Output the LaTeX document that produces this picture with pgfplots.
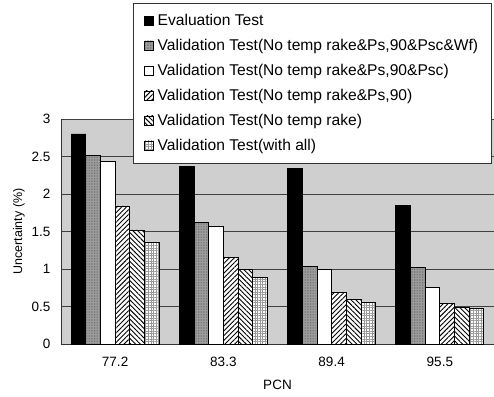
\documentclass[border=0pt]{standalone}
\usepackage{pgfplots}
\pgfplotsset{compat=1.18}
\usepackage{fontspec}
\setmainfont{Liberation Sans}
\usetikzlibrary{patterns.meta}
\begin{document}
\begin{tikzpicture}[x=1pt,y=1pt]
\begin{axis}[
  scale only axis,
  width=433pt, height=225pt,
  ybar=0pt, bar width=14.67pt,
  xmin=-0.5, xmax=3.5,
  ymin=0, ymax=3,
  xtick={0,1,2,3},
  xticklabels={77.2,83.3,89.4,95.5},
  ytick={0,0.5,1,1.5,2,2.5,3},
  yticklabels={0,0.5,1,1.5,2,2.5,3},
  /pgf/number format/assume math mode=true,
  major tick length=0pt,
  ymajorgrids,
  grid style={black!75, line width=0.6pt},
  axis line style={black!80},
  axis x line*=bottom,
  axis y line*=left,
  axis background/.style={fill=gray!38},
  tick label style={font=\fontsize{13.5}{15}\selectfont},
  xticklabel style={yshift=-10pt},
  yticklabel style={xshift=-7pt},
  xlabel={PCN},
  ylabel={Uncertainty (\%)},
  label style={font=\fontsize{13.5}{15}\selectfont},
  xlabel style={yshift=-6pt},
  ylabel style={yshift=0pt, font=\fontsize{12.5}{14}\selectfont},
  legend cell align=left,
  legend style={at={(rel axis cs:0.1663,1.5156)}, anchor=north west,
    draw=black!80, fill=white, font=\fontsize{15.6}{17}\selectfont,
    row sep=8.2pt, inner xsep=11pt, inner ysep=9pt, outer sep=0pt,
    /tikz/every odd column/.append style={column sep=2pt}},
  legend image code/.code={\draw[#1, draw=black, line width=0.7pt] (0pt,-4.5pt) rectangle (9pt,4.5pt);},
  every axis plot/.append style={draw=black, line width=0.9pt},
]
\addplot[fill=black] coordinates {(0,2.80) (1,2.37) (2,2.34) (3,1.85)};
\addlegendentry{Evaluation Test}
\addplot[fill=gray!75, postaction={pattern={Dots[distance=1.6pt,radius=0.35pt]}, pattern color=black!70}] coordinates {(0,2.51) (1,1.62) (2,1.04) (3,1.02)};
\addlegendentry{Validation Test(No temp rake\&Ps,90\&Psc\&Wf)}
\addplot[fill=white] coordinates {(0,2.43) (1,1.57) (2,0.99) (3,0.76)};
\addlegendentry{Validation Test(No temp rake\&Ps,90\&Psc)}
\addplot[fill=white, postaction={pattern={Lines[angle=45,distance=3.4pt,line width=0.9pt]}}] coordinates {(0,1.84) (1,1.16) (2,0.69) (3,0.54)};
\addlegendentry{Validation Test(No temp rake\&Ps,90)}
\addplot[fill=white, postaction={pattern={Lines[angle=-45,distance=3.4pt,line width=0.9pt]}}] coordinates {(0,1.52) (1,0.99) (2,0.60) (3,0.49)};
\addlegendentry{Validation Test(No temp rake)}
\addplot[fill=white, postaction={pattern={Hatch[angle=0,distance=2.6pt,line width=0.4pt]}, pattern color=gray!80}] coordinates {(0,1.36) (1,0.89) (2,0.56) (3,0.47)};
\addlegendentry{Validation Test(with all)}
\end{axis}
\pgfresetboundingbox
\path (-61pt,-52pt) rectangle (433pt,344pt);
\end{tikzpicture}
\end{document}
